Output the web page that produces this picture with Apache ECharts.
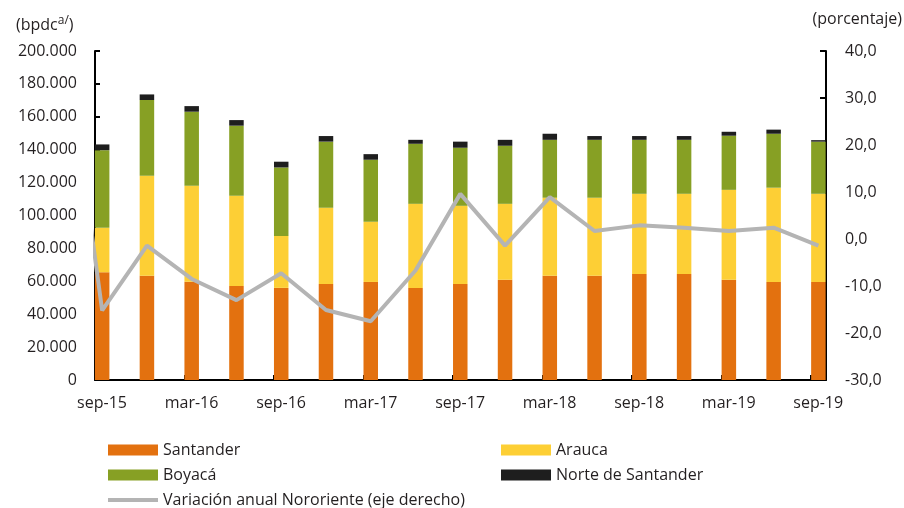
<!DOCTYPE html>
<html>
<head>
<meta charset="utf-8">
<script src="https://cdn.jsdelivr.net/npm/echarts@6/dist/echarts.min.js"></script>
<style>
  html, body { margin: 0; padding: 0; background: #fff; }
  #chart_1 { width: 904px; height: 508px; }
</style>
</head>
<body>
<div id="chart_1"></div>
<script>
// trimestres sep-15 .. sep-19
const categorias = ['sep-15', 'dic-15', 'mar-16', 'jun-16', 'sep-16', 'dic-16', 'mar-17', 'jun-17',
  'sep-17', 'dic-17', 'mar-18', 'jun-18', 'sep-18', 'dic-18', 'mar-19', 'jun-19', 'sep-19'];
// produccion (bpdc)
const santander = [65500, 63300, 59800, 57200, 56000, 58400, 59600, 56000, 58400, 60900, 63300, 63300, 64500, 64500, 60900, 59600, 59500];
const arauca = [27000, 60900, 58300, 54800, 31600, 46300, 36600, 51100, 47500, 46200, 47500, 47500, 48700, 48700, 54700, 57300, 53700];
const boyaca = [47200, 46000, 45000, 42600, 41600, 40200, 37700, 36500, 35300, 35300, 35200, 35200, 32800, 32800, 32900, 32800, 31700];
const norteSantander = [3500, 3400, 3400, 3400, 3500, 3400, 3400, 2400, 3700, 3600, 3700, 2300, 2300, 2300, 2400, 2500, 900];
// variacion anual (%), eje derecho; el trimestre previo (jun-15) solo asoma recortado en el borde
const variacionPrev = 55;
const variacion = [-15.2, -1.4, -8.5, -13.0, -7.3, -15.1, -17.5, -6.7, 9.6, -1.4, 8.9, 1.7, 2.9, 2.4, 1.7, 2.4, -1.4];

const FONT = 'Open Sans';
const TXT = '#231f20';
const X_MIN = -0.16;
const NOMBRE_LINEA = 'Variación anual Nororiente (eje derecho)';

// [valor, indice]: el valor va primero para que el apilado se haga sobre el eje y
function conIndice(arr) {
  return arr.map((v, i) => [v, i]);
}
function miles(v) {
  return String(v).replace(/\B(?=(\d{3})+(?!\d))/g, '.');
}

let chart = echarts.init(document.getElementById('chart_1'), null, { renderer: 'canvas' });

const barras = [
  { name: 'Santander', data: santander, color: '#e3710f' },
  { name: 'Arauca', data: arauca, color: '#fdcf35' },
  { name: 'Boyacá', data: boyaca, color: '#87a024' },
  { name: 'Norte de Santander', data: norteSantander, color: '#1e1e1e' }
].map(s => ({
  name: s.name,
  type: 'bar',
  stack: 'total',
  barWidth: 14.5,
  animation: false,
  encode: { x: 1, y: 0 },
  itemStyle: { color: s.color },
  data: conIndice(s.data)
}));

const serieLinea = {
  name: NOMBRE_LINEA,
  type: 'line',
  yAxisIndex: 1,
  symbol: 'none',
  animation: false,
  clip: true,
  encode: { x: 1, y: 0 },
  lineStyle: { color: '#b4b4b4', width: 4 },
  itemStyle: { color: '#b4b4b4' },
  data: [[variacionPrev, -1]].concat(conIndice(variacion))
};

const legendBase = {
  orient: 'vertical',
  top: 441,
  height: 100,
  padding: 0,
  itemWidth: 50,
  itemHeight: 11,
  itemGap: 7,
  textStyle: { fontFamily: FONT, fontSize: 16, color: TXT, lineHeight: 18 }
};

chart.setOption({
  animation: false,
  textStyle: { fontFamily: FONT },
  title: [{
    text: '{a|(bpdc}{s|a/}{a|)}',
    left: 16,
    top: 15,
    padding: 0,
    textStyle: {
      fontWeight: 'normal',
      rich: {
        a: { fontFamily: FONT, fontSize: 16, fontWeight: 'normal', color: TXT, lineHeight: 20 },
        s: { fontFamily: FONT, fontSize: 12, fontWeight: 'normal', color: TXT, lineHeight: 12, verticalAlign: 'top' }
      }
    }
  }, {
    text: '(porcentaje)',
    right: 2,
    top: 11,
    padding: 0,
    textStyle: { fontFamily: FONT, fontSize: 16, fontWeight: 'normal', color: TXT }
  }],
  legend: [
    Object.assign({}, legendBase, {
      left: 106,
      data: [
        { name: 'Santander', icon: 'rect' },
        { name: 'Boyacá', icon: 'rect' },
        {
          name: NOMBRE_LINEA,
          itemStyle: { opacity: 0 },
          lineStyle: { color: '#b4b4b4', width: 4 }
        }
      ]
    }),
    Object.assign({}, legendBase, {
      left: 501,
      data: [{ name: 'Arauca', icon: 'rect' }, { name: 'Norte de Santander', icon: 'rect' }]
    })
  ],
  grid: { left: 95, right: 78, top: 51, bottom: 128 },
  xAxis: {
    type: 'value',
    min: X_MIN,
    max: 16.17,
    interval: 2,
    splitLine: { show: false },
    axisLine: { onZero: false, lineStyle: { color: '#000', width: 2 } },
    axisTick: { inside: true, length: 5, lineStyle: { color: '#000', width: 2 } },
    axisLabel: {
      margin: 15,
      fontSize: 16,
      color: TXT,
      padding: [0, 0, 0, 14],
      showMaxLabel: false,
      formatter: (v) => {
        const i = Math.round(v - X_MIN);
        if (Math.abs(v - X_MIN - i) > 0.01 || i % 2 !== 0) return '';
        return categorias[i] || '';
      }
    }
  },
  yAxis: [{
    type: 'value',
    min: 0,
    max: 200000,
    interval: 20000,
    position: 'left',
    splitLine: { show: false },
    axisLine: { show: true, onZero: false, lineStyle: { color: '#000', width: 2 } },
    axisTick: { show: true, inside: true, length: 5, lineStyle: { color: '#000', width: 2 } },
    axisLabel: { margin: 18, fontSize: 16, color: TXT, formatter: miles }
  }, {
    type: 'value',
    min: -30,
    max: 40,
    interval: 10,
    position: 'right',
    splitLine: { show: false },
    axisLine: { show: true, onZero: false, lineStyle: { color: '#000', width: 2 } },
    axisTick: { show: true, inside: true, length: 6, lineStyle: { color: '#000', width: 2 } },
    axisLabel: { margin: 19, fontSize: 16, color: TXT, formatter: (v) => v.toFixed(1).replace('.', ',') }
  }],
  series: barras.concat([serieLinea])
});
</script>
</body>
</html>
